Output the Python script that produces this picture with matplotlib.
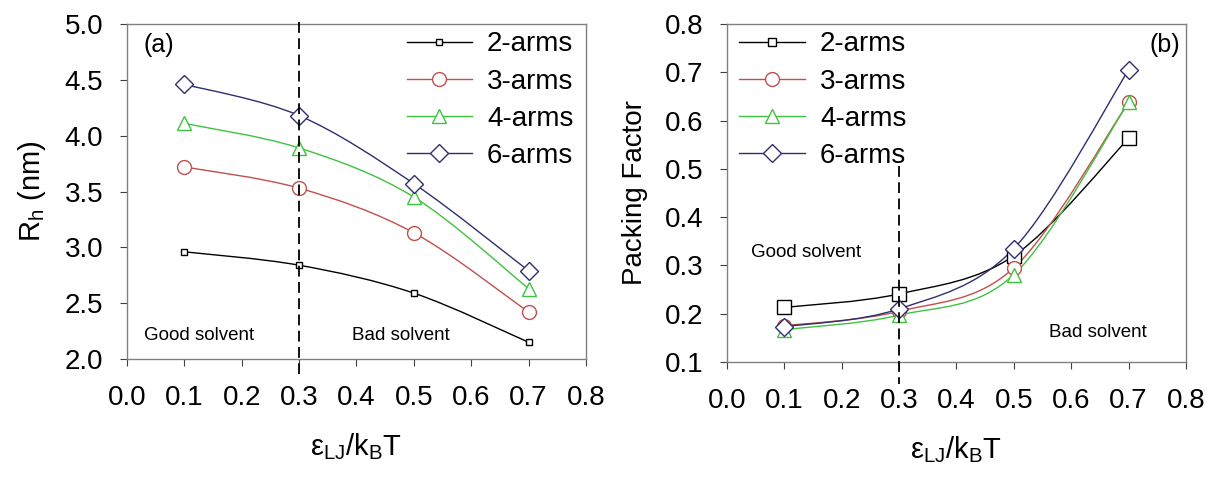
import matplotlib.pyplot as plt
import numpy as np
from matplotlib.path import Path
from matplotlib.patches import PathPatch
from matplotlib.lines import Line2D

plt.rcParams['font.family'] = ['Liberation Sans', 'DejaVu Sans']

# data
eps = [0.1, 0.3, 0.5, 0.7]
labels = ['2-arms', '3-arms', '4-arms', '6-arms']

rh_2 = [2.96, 2.84, 2.59, 2.15]
rh_3 = [3.72, 3.53, 3.13, 2.42]
rh_4 = [4.11, 3.89, 3.45, 2.63]
rh_6 = [4.46, 4.18, 3.57, 2.79]

pf_2 = [0.213, 0.241, 0.320, 0.563]
pf_3 = [0.175, 0.205, 0.295, 0.638]
pf_4 = [0.167, 0.197, 0.281, 0.638]
pf_6 = [0.173, 0.210, 0.335, 0.705]

colors = ['#000000', '#c0504d', '#3fc23f', '#2f2f6f']
markers = ['s', 'o', '^', 'D']


def smooth_path(x, y):
    # Catmull-Rom tangents turned into cubic bezier segments
    pts = np.column_stack([np.asarray(x, float), np.asarray(y, float)])
    n = len(pts)
    verts = [pts[0]]
    codes = [Path.MOVETO]
    for i in range(n - 1):
        p0 = pts[max(i - 1, 0)]
        p1 = pts[i]
        p2 = pts[i + 1]
        p3 = pts[min(i + 2, n - 1)]
        verts += [p1 + (p2 - p0) / 6.0, p2 - (p3 - p1) / 6.0, p2]
        codes += [Path.CURVE4] * 3
    return Path(verts, codes)


def msize(m, s):
    return s * 0.85 if m == 'D' else s


def draw(ax, series, sizes):
    for ys, c, m, s in zip(series, colors, markers, sizes):
        ax.add_patch(PathPatch(smooth_path(eps, ys), fill=False, edgecolor=c, lw=1.0, zorder=2))
        ax.plot(eps, ys, ls='none', marker=m, ms=msize(m, s), mfc='white', mec=c, mew=1.0, zorder=3)


fig = plt.figure(figsize=(12.07, 4.79), dpi=100)
ax1 = fig.add_axes([0.1052, 0.2505, 0.3803, 0.6994])
ax2 = fig.add_axes([0.6023, 0.2443, 0.3803, 0.7056])

sizes1 = [5, 10, 10, 11]
sizes2 = [10, 10, 10, 11]
draw(ax1, [rh_2, rh_3, rh_4, rh_6], sizes1)
draw(ax2, [pf_2, pf_3, pf_4, pf_6], sizes2)

ax1.set_xlim(0, 0.8)
ax1.set_ylim(2.0, 5.0)
ax1.set_yticks(np.arange(2.0, 5.01, 0.5))
ax2.set_xlim(0, 0.8)
ax2.set_ylim(0.1, 0.8)
ax2.set_yticks(np.arange(0.1, 0.801, 0.1))

for ax in (ax1, ax2):
    ax.set_xticks(np.arange(0, 0.81, 0.1))
    ax.xaxis.set_major_formatter(plt.FormatStrFormatter('%.1f'))
    ax.yaxis.set_major_formatter(plt.FormatStrFormatter('%.1f'))
    ax.tick_params(axis='x', direction='out', length=5, pad=14, labelsize=20, color='#404040')
    ax.tick_params(axis='y', direction='out', length=5, pad=12, labelsize=20, color='#404040')
    for sp in ax.spines.values():
        sp.set_color('#808080')
        sp.set_linewidth(1.0)
    ax.set_xlabel(r'$\mathregular{\varepsilon_{LJ}/k_BT}$', fontsize=21, labelpad=14)

# dashed separators (run past the bottom axis like the original)
ax1.plot([0.3, 0.3], [5.02, 1.85], color='black', ls=(0, (6, 3)), lw=1.3, clip_on=False, zorder=4)
ax2.plot([0.3, 0.3], [0.505, 0.055], color='black', ls=(0, (6, 3)), lw=1.3, clip_on=False, zorder=4)

ax1.set_ylabel(r'$\mathregular{R_h}$ (nm)', fontsize=21, labelpad=12)
ax2.set_ylabel('Packing Factor', fontsize=20, labelpad=12)

ax1.text(0.029, 4.81, '(a)', fontsize=18, va='center', ha='left')
ax2.text(0.79, 0.757, '(b)', fontsize=18, va='center', ha='right')

ax1.text(0.029, 2.21, 'Good solvent', fontsize=13.5, va='center')
ax1.text(0.392, 2.21, 'Bad solvent', fontsize=13.5, va='center')
ax2.text(0.042, 0.326, 'Good solvent', fontsize=13.5, va='center')
ax2.text(0.561, 0.162, 'Bad solvent', fontsize=13.5, va='center')

h1 = [Line2D([], [], color=c, lw=1.0, marker=m, ms=msize(m, s), mfc='white', mec=c)
      for c, m, s in zip(colors, markers, sizes1)]
h2 = [Line2D([], [], color=c, lw=1.0, marker=m, ms=msize(m, s), mfc='white', mec=c)
      for c, m, s in zip(colors, markers, [6, 10, 10, 11])]
ax1.legend(h1, labels, loc='upper right', bbox_to_anchor=(1.0, 1.015), fontsize=20, frameon=False,
           handlelength=2.35, handletextpad=0.55, labelspacing=0.4, borderaxespad=0.05)
ax2.legend(h2, labels, loc='upper left', bbox_to_anchor=(0.0, 1.015), fontsize=20, frameon=False,
           handlelength=2.35, handletextpad=0.55, labelspacing=0.4, borderaxespad=0.05)

plt.savefig('out.png', dpi=100)
